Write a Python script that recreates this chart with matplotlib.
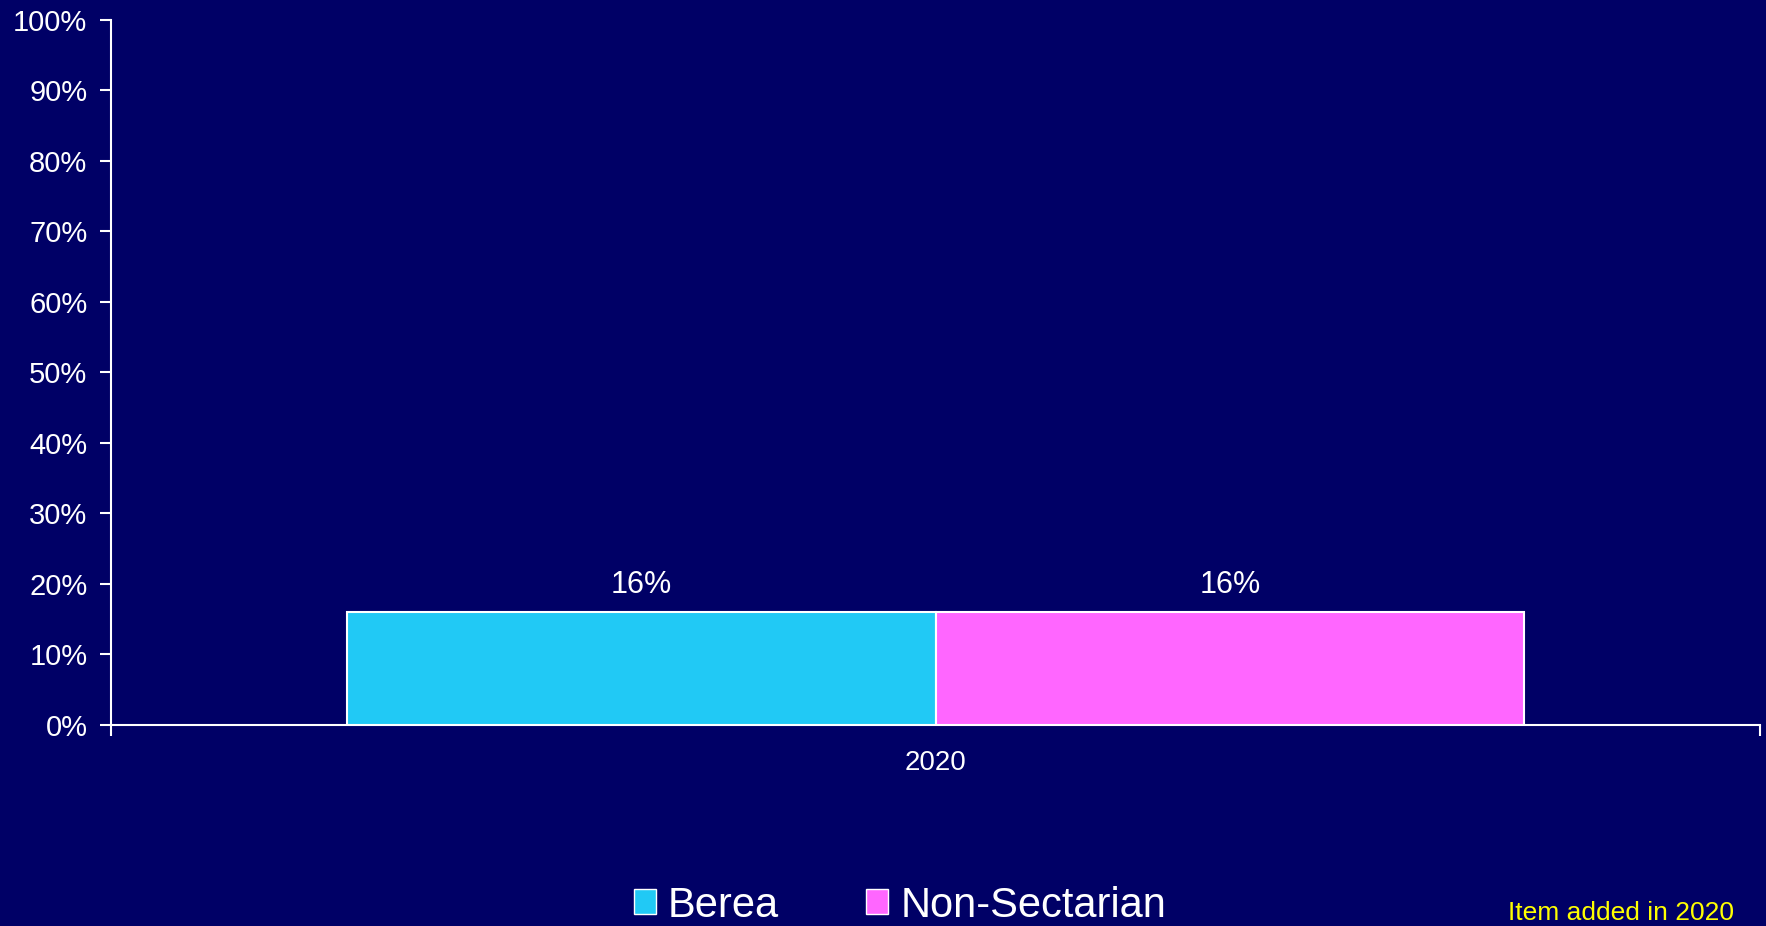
import matplotlib.pyplot as plt
from matplotlib.patches import Patch

# data
years = ["2020"]
series = ["Berea", "Non-Sectarian"]
berea = [16]
non_sectarian = [16]
y_ticks = [0, 10, 20, 30, 40, 50, 60, 70, 80, 90, 100]

bg = "#000066"
colors = ["#21C9F5", "#FF66FF"]

plt.rcParams['font.family'] = ['Liberation Sans', 'DejaVu Sans']

fig = plt.figure(figsize=(17.66, 9.26), dpi=100, facecolor=bg)
ax = fig.add_axes([0.0629, 0.2171, 0.9337, 0.7613], facecolor=bg)

width = 0.357
offsets = [-width / 2, width / 2]
values = [berea, non_sectarian]
for i, name in enumerate(series):
    xs = [j + offsets[i] for j in range(len(years))]
    bars = ax.bar(xs, values[i], width, color=colors[i], edgecolor="white",
                  linewidth=1.5, label=name, zorder=3)
    for b, v in zip(bars, values[i]):
        ax.text(b.get_x() + b.get_width() / 2, v + 3.8, "%d%%" % v,
                ha="center", va="center", color="white", fontsize=22)

ax.set_xlim(-0.5, len(years) - 0.5)
ax.set_ylim(0, 100)
ax.set_yticks(y_ticks)
ax.set_yticklabels(["%d%%" % t for t in y_ticks])

# category boundary ticks, labels centred
ax.set_xticks([k - 0.5 for k in range(len(years) + 1)])
ax.set_xticklabels([])
ax.set_xticks(range(len(years)), minor=True)
ax.set_xticklabels(years, minor=True)
ax.tick_params(axis="x", which="minor", length=0, pad=18, labelsize=20, labelcolor="white")
ax.tick_params(axis="x", which="major", length=8, width=1.5, color="white", direction="out")
ax.tick_params(axis="y", length=8, width=1.5, color="white", direction="out",
               labelsize=21, labelcolor="white", pad=9)

ax.spines["top"].set_visible(False)
ax.spines["right"].set_visible(False)
for side in ["left", "bottom"]:
    ax.spines[side].set_color("white")
    ax.spines[side].set_linewidth(1.5)

handles = [Patch(facecolor=colors[i], edgecolor="white", linewidth=1.0) for i in range(len(series))]
leg = fig.legend(handles, series, loc="center", bbox_to_anchor=(0.5096, 0.022),
                 ncol=2, frameon=False, fontsize=30, labelcolor="white",
                 handlelength=0.53, handleheight=0.55, handletextpad=0.29,
                 columnspacing=2.1, borderpad=0, borderaxespad=0)

fig.text(0.982, 0.014, "Item added in 2020", ha="right", va="center",
         color="yellow", fontsize=19)

fig.savefig("out.png", facecolor=bg)
